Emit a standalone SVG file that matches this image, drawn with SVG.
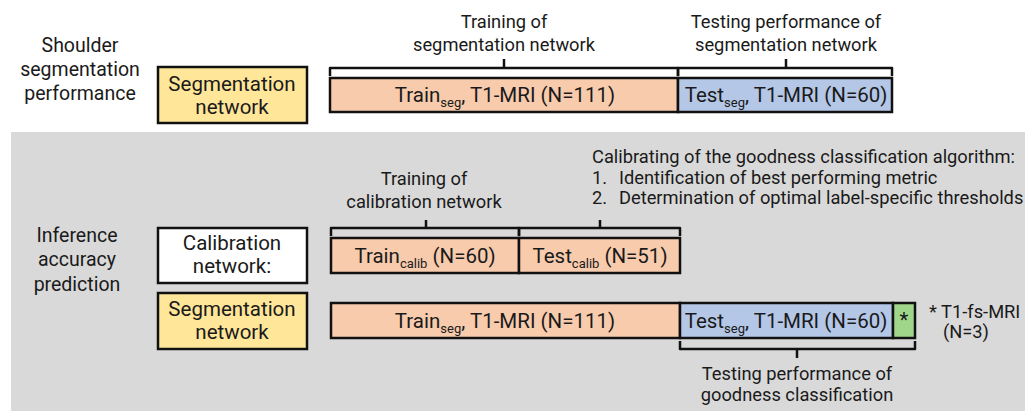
<svg xmlns="http://www.w3.org/2000/svg" width="1025" height="411" viewBox="0 0 1025 411">
<style>
text{font-family:Roboto,"Liberation Sans",sans-serif;font-size:20.5px;fill:#1a1a1a}
.c{text-anchor:middle}
.a{font-size:18.3px}
.l{font-size:19.5px}
.sub{font-size:13px}
.box{stroke:#111;stroke-width:2.5}
.yel{fill:#ffe699}
.wht{fill:#ffffff}
.org{fill:#f8cbad}
.blu{fill:#b4c7e7}
.grn{fill:#9fd68a}
.br{fill:none;stroke:#111;stroke-width:2.5;stroke-linejoin:round}
</style>
<rect x="0" y="0" width="1025" height="411" fill="#ffffff"/>
<rect id="bg" x="11" y="132" width="1014" height="279" fill="#d9d9d9"/>

<g id="label-top">
<text class="c l" x="80" y="52">Shoulder</text>
<text class="c l" x="80" y="76">segmentation</text>
<text class="c l" x="80" y="100">performance</text>
</g>
<g id="label-bottom">
<text class="c l" x="77" y="242">Inference</text>
<text class="c l" x="77" y="266">accuracy</text>
<text class="c l" x="77" y="291">prediction</text>
</g>

<g id="seg-net-top">
<rect class="box yel" x="158" y="67" width="149" height="56"/>
<text class="c" x="232" y="91">Segmentation</text>
<text class="c" x="232" y="114">network</text>
</g>
<g id="train-seg-top">
<rect class="box org" x="330" y="78" width="348" height="34"/>
<text class="c" x="505" y="102">Train<tspan class="sub" dy="5">seg</tspan><tspan dy="-5">, T1-MRI (N=111)</tspan></text>
</g>
<g id="test-seg-top">
<rect class="box blu" x="678" y="78" width="214" height="34"/>
<text class="c" x="786" y="102">Test<tspan class="sub" dy="5">seg</tspan><tspan dy="-5">, T1-MRI (N=60)</tspan></text>
</g>

<g id="calib-net">
<rect class="box wht" x="158" y="228" width="149" height="55"/>
<text class="c" x="232" y="250">Calibration</text>
<text class="c" x="232" y="273">network:</text>
</g>
<g id="train-calib">
<rect class="box org" x="331" y="238" width="188" height="35"/>
<text class="c" x="425" y="263">Train<tspan class="sub" dy="5">calib</tspan><tspan dy="-5"> (N=60)</tspan></text>
</g>
<g id="test-calib">
<rect class="box org" x="519" y="238" width="161" height="35"/>
<text class="c" x="600" y="263">Test<tspan class="sub" dy="5">calib</tspan><tspan dy="-5"> (N=51)</tspan></text>
</g>

<g id="seg-net-bottom">
<rect class="box yel" x="158" y="293" width="149" height="56"/>
<text class="c" x="232" y="316">Segmentation</text>
<text class="c" x="232" y="339">network</text>
</g>
<g id="train-seg-bottom">
<rect class="box org" x="331" y="303" width="349" height="35"/>
<text class="c" x="505" y="328">Train<tspan class="sub" dy="5">seg</tspan><tspan dy="-5">, T1-MRI (N=111)</tspan></text>
</g>
<g id="test-seg-bottom">
<rect class="box blu" x="680" y="303" width="213" height="35"/>
<text class="c" x="786" y="328">Test<tspan class="sub" dy="5">seg</tspan><tspan dy="-5">, T1-MRI (N=60)</tspan></text>
</g>
<g id="fs-mri">
<rect class="box grn" x="893" y="303" width="22" height="35"/>
<text class="c" x="904" y="327">*</text>
</g>

<g id="connectors">
<path class="br" d="M330,76 V68 H678 V76 M504,68 V59"/>
<path class="br" d="M678,76 V68 H892 V76 M786,68 V59"/>
<path class="br" d="M331,236 V228 H519 V236 M426,228 V220"/>
<path class="br" d="M519,236 V228 H680 V236 M600,228 V220"/>
<path class="br" d="M680,341 V349 H915 V341 M797,349 V358"/>
</g>

<g id="annotations">
<text class="c a" x="504" y="28">Training of</text>
<text class="c a" x="504" y="51">segmentation network</text>
<text class="c a" x="786" y="28">Testing performance of</text>
<text class="c a" x="786" y="51">segmentation network</text>
<text class="c a" x="424" y="185">Training of</text>
<text class="c a" x="424" y="208">calibration network</text>
<text class="a" x="592" y="163">Calibrating of the goodness classification algorithm:</text>
<text class="a" x="592" y="184">1.</text>
<text class="a" x="619" y="184">Identification of best performing metric</text>
<text class="a" x="592" y="204">2.</text>
<text class="a" x="619" y="204">Determination of optimal label-specific thresholds</text>
<text class="c a" x="797" y="380">Testing performance of</text>
<text class="c a" x="797" y="401">goodness classification</text>
<text class="a" x="929" y="318">* T1-fs-MRI</text>
<text class="a" x="943" y="338">(N=3)</text>
</g>
</svg>
